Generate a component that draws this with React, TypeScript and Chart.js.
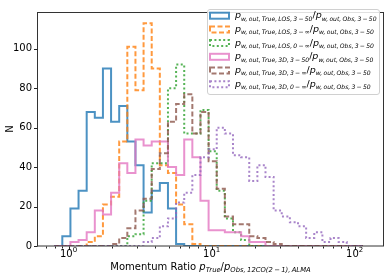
import React, { useEffect, useRef } from "react";
import { Chart, registerables } from "chart.js";

Chart.register(...registerables);

// Shared logarithmic bin edges (39 edges -> 38 bins)
const binEdges = [
  0.794, 0.905, 1.0313, 1.1753, 1.3397, 1.5268, 1.74, 1.9834, 2.2605, 2.5763,
  2.9363, 3.3465, 3.8141, 4.3471, 4.9545, 5.6468, 6.4358, 7.335, 8.36, 9.528,
  10.859, 12.377, 14.106, 16.077, 18.323, 20.884, 23.802, 27.128, 30.918, 35.238,
  40.162, 45.774, 52.17, 59.46, 67.764, 77.233, 88.025, 100.32, 114.34,
];

// Counts per bin for each histogram
const nLos350 = [
  0, 5, 19, 28, 68, 65, 90, 63, 71, 53, 41, 17, 28, 32, 19, 1, 0, 0, 0, 0,
  0, 0, 0, 0, 0, 0, 0, 0, 0, 0, 0, 0, 0, 0, 0, 0, 0, 0,
];
const nLos3inf = [
  0, 0, 0, 0, 2, 5, 21, 25, 53, 101, 79, 113, 90, 41, 37, 21, 11, 1, 0, 0,
  0, 0, 0, 0, 0, 0, 0, 0, 0, 0, 0, 0, 0, 0, 0, 0, 0, 0,
];
const nLos0inf = [
  0, 0, 0, 0, 0, 0, 0, 0, 0, 5, 6, 23, 42, 42, 80, 92, 57, 57, 69, 48,
  28, 14, 7, 3, 0, 0, 0, 0, 0, 0, 0, 0, 0, 0, 0, 0, 0, 0,
];
const n3d350 = [
  0, 0, 2, 3, 7, 18, 16, 27, 42, 37, 54, 51, 53, 53, 40, 36, 54, 45, 23, 8,
  8, 7, 7, 5, 2, 2, 0, 0, 0, 0, 0, 0, 0, 0, 0, 0, 0, 0,
];
const n3d3inf = [
  0, 0, 0, 0, 0, 0, 0, 1, 4, 9, 18, 24, 39, 47, 63, 72, 77, 57, 68, 43,
  29, 15, 11, 11, 5, 4, 2, 1, 0, 0, 0, 0, 0, 0, 0, 0, 0, 0,
];
const n3d0inf = [
  0, 0, 0, 0, 0, 0, 0, 0, 0, 0, 0, 2, 4, 10, 14, 22, 27, 36, 45, 49,
  60, 57, 46, 45, 33, 41, 35, 18, 15, 12, 10, 4, 7, 2, 4, 2, 0, 0,
];

const seriesCounts = [nLos350, nLos3inf, nLos0inf, n3d350, n3d3inf, n3d0inf];
const seriesColors = [
  "rgba(31,119,180,0.8)",
  "rgba(255,127,14,0.8)",
  "rgba(44,160,44,0.8)",
  "rgba(227,119,194,0.8)",
  "rgba(140,86,75,0.8)",
  "rgba(148,103,189,0.8)",
];
const seriesDash = [[], [5, 2.5], [2, 2.4], [], [5, 2.5], [2, 2.4]];

const legendNumerators = [
  "w,\u2009out,\u2009True,\u2009LOS,\u20093\u2009−\u200950",
  "w,\u2009out,\u2009True,\u2009LOS,\u20093\u2009−\u2009∞",
  "w,\u2009out,\u2009True,\u2009LOS,\u20090\u2009−\u2009∞",
  "w,\u2009out,\u2009True,\u20093D,\u20093\u2009−\u200950",
  "w,\u2009out,\u2009True,\u20093D,\u20093\u2009−\u2009∞",
  "w,\u2009out,\u2009True,\u20093D,\u20090\u2009−\u2009∞",
];
const legendDenominator = "w,\u2009out,\u2009Obs,\u20093\u2009−\u200950";

const yTickValues = [0, 20, 40, 60, 80, 100];
const xMajorTicks = [1, 10, 100];
const xMajorExponents = ["0", "1", "2"];
const xMinorTicks = [0.7, 0.8, 0.9, 2, 3, 4, 5, 6, 7, 8, 9, 20, 30, 40, 50, 60, 70, 80, 90];
const xAxisMin = 0.612;
const xAxisMax = 157.7;
const yAxisMax = 118.65;

const xTitleMain = "Momentum Ratio ";
const xTitleSub1 = "True";
const xTitleSub2 = "Obs,\u200912CO(2\u2009−\u20091),\u2009ALMA";
const yTitle = "N";

const FONT = '"DejaVu Sans"';

type Seg = { t: string; size: number; it?: boolean; dy?: number };

function segFont(s: Seg) {
  return `${s.it ? "italic " : ""}${s.size}px ${FONT}`;
}
function measureSegs(ctx: CanvasRenderingContext2D, segs: Seg[]) {
  let w = 0;
  for (const s of segs) {
    ctx.font = segFont(s);
    w += ctx.measureText(s.t).width;
  }
  return w;
}
function drawSegs(ctx: CanvasRenderingContext2D, x: number, y: number, segs: Seg[]) {
  let cx = x;
  ctx.textAlign = "left";
  ctx.textBaseline = "alphabetic";
  for (const s of segs) {
    ctx.font = segFont(s);
    ctx.fillText(s.t, cx, y + (s.dy || 0));
    cx += ctx.measureText(s.t).width;
  }
}

function legendSegs(num: string, sub: number): Seg[] {
  return [
    { t: "p", size: 9.5, it: true },
    { t: num, size: sub, it: true, dy: 2.3 },
    { t: "/", size: 9.5 },
    { t: "p", size: 9.5, it: true },
    { t: legendDenominator, size: sub, it: true, dy: 2.3 },
  ];
}

const overlayPlugin = {
  id: "overlay",
  afterDraw(chart: any) {
    const ctx: CanvasRenderingContext2D = chart.ctx;
    const ca = chart.chartArea;
    const xs = chart.scales.x;
    const ys = chart.scales.y;
    ctx.save();

    // frame
    ctx.strokeStyle = "#333";
    ctx.lineWidth = 1;
    ctx.setLineDash([]);
    ctx.strokeRect(Math.round(ca.left) - 0.5, Math.round(ca.top) + 0.5, Math.round(ca.right - ca.left) + 1, Math.round(ca.bottom - ca.top) - 0.5);

    // ticks
    ctx.strokeStyle = "#222";
    ctx.beginPath();
    const b = Math.round(ca.bottom) + 0.5;
    for (const v of xMajorTicks) {
      const px = Math.round(xs.getPixelForValue(v)) + 0.5;
      ctx.moveTo(px, b);
      ctx.lineTo(px, b + 3.5);
    }
    for (const v of xMinorTicks) {
      const px = Math.round(xs.getPixelForValue(v)) + 0.5;
      ctx.moveTo(px, b);
      ctx.lineTo(px, b + 2);
    }
    for (const v of yTickValues) {
      const py = Math.round(ys.getPixelForValue(v)) + 0.5;
      ctx.moveTo(ca.left - 0.5, py);
      ctx.lineTo(ca.left - 4, py);
    }
    ctx.stroke();

    // x tick labels (10^k)
    ctx.fillStyle = "#000";
    xMajorTicks.forEach((v, i) => {
      const px = xs.getPixelForValue(v);
      const segs: Seg[] = [
        { t: "10", size: 10 },
        { t: xMajorExponents[i], size: 7, dy: -5.5 },
      ];
      const w = measureSegs(ctx, segs);
      drawSegs(ctx, px - w / 2, 257, segs);
    });

    // x title
    const tsegs: Seg[] = [
      { t: xTitleMain, size: 10 },
      { t: "p", size: 10, it: true },
      { t: xTitleSub1, size: 6.8, it: true, dy: 2.4 },
      { t: "/", size: 10 },
      { t: "p", size: 10, it: true },
      { t: xTitleSub2, size: 6.8, it: true, dy: 2.4 },
    ];
    const tw = measureSegs(ctx, tsegs);
    drawSegs(ctx, (ca.left + ca.right) / 2 - tw / 2, 270, tsegs);

    // y title
    ctx.save();
    ctx.translate(10.5, (ca.top + ca.bottom) / 2);
    ctx.rotate(-Math.PI / 2);
    ctx.font = `10px ${FONT}`;
    ctx.textAlign = "center";
    ctx.textBaseline = "middle";
    ctx.fillText(yTitle, 0, 0);
    ctx.restore();

    // legend
    const lx = 207.5, ly = 9.5, lw = 172, lh = 85;
    ctx.beginPath();
    if ((ctx as any).roundRect) (ctx as any).roundRect(lx, ly, lw, lh, 2.5);
    else ctx.rect(lx, ly, lw, lh);
    ctx.fillStyle = "rgba(255,255,255,0.85)";
    ctx.fill();
    ctx.strokeStyle = "#d0d0d0";
    ctx.lineWidth = 1;
    ctx.stroke();

    // fit subscript size so that the first row spans the measured width
    const target = 142;
    const w1 = measureSegs(ctx, legendSegs(legendNumerators[0], 6));
    const wp = measureSegs(ctx, legendSegs("", 6)) - measureSegs(ctx, [{ t: legendDenominator, size: 6, it: true }]);
    const subW = w1 - wp;
    const subSize = Math.max(4.5, Math.min(7, (6 * (target - wp)) / subW));

    legendNumerators.forEach((num, i) => {
      const cy = 15.7 + i * 13.7;
      ctx.strokeStyle = seriesColors[i];
      ctx.lineWidth = 2;
      ctx.setLineDash(seriesDash[i]);
      ctx.strokeRect(210, cy - 3, 19, 6);
      ctx.setLineDash([]);
      ctx.fillStyle = "#000";
      drawSegs(ctx, 235, cy + 2.6, legendSegs(num, subSize));
    });

    ctx.restore();
  },
};

export default function App() {
  const ref = useRef<HTMLCanvasElement | null>(null);

  useEffect(() => {
    document.body.style.margin = "0";
    if (!ref.current) return;
    const datasets = seriesCounts.map((counts, si) => {
      const pts = [{ x: binEdges[0], y: 0 }];
      counts.forEach((c, i) => pts.push({ x: binEdges[i], y: c }));
      pts.push({ x: binEdges[binEdges.length - 1], y: 0 });
      return {
        label: legendNumerators[si],
        data: pts,
        borderColor: seriesColors[si],
        borderDash: seriesDash[si],
        borderWidth: 2,
        backgroundColor: "transparent",
        fill: false,
        stepped: "before" as const,
        pointRadius: 0,
        tension: 0,
        order: 6 - si,
      };
    });

    const chart = new Chart(ref.current, {
      type: "line",
      data: { datasets },
      options: {
        responsive: false,
        animation: false,
        devicePixelRatio: 1,
        layout: { padding: { top: 4, right: 7, left: 0, bottom: 0 } },
        plugins: { legend: { display: false }, tooltip: { enabled: false } },
        scales: {
          x: {
            type: "logarithmic",
            min: xAxisMin,
            max: xAxisMax,
            bounds: "data",
            grid: { display: false, drawTicks: false },
            border: { display: false },
            ticks: { display: false },
            afterFit: (s: any) => {
              s.height = 32;
            },
          },
          y: {
            type: "linear",
            min: 0,
            max: yAxisMax,
            grid: { display: false, drawTicks: false },
            border: { display: false },
            ticks: {
              padding: 6,
              color: "#000",
              font: { family: "DejaVu Sans", size: 10 },
            },
            afterBuildTicks: (s: any) => {
              s.ticks = yTickValues.map((v) => ({ value: v }));
            },
            afterFit: (s: any) => {
              s.width = 38;
            },
          },
        },
      },
      plugins: [overlayPlugin],
    });
    return () => chart.destroy();
  }, []);

  return (
    <div style={{ width: 390, height: 278 }}>
      <canvas ref={ref} width={390} height={278} style={{ width: 390, height: 278, display: "block" }} />
    </div>
  );
}
